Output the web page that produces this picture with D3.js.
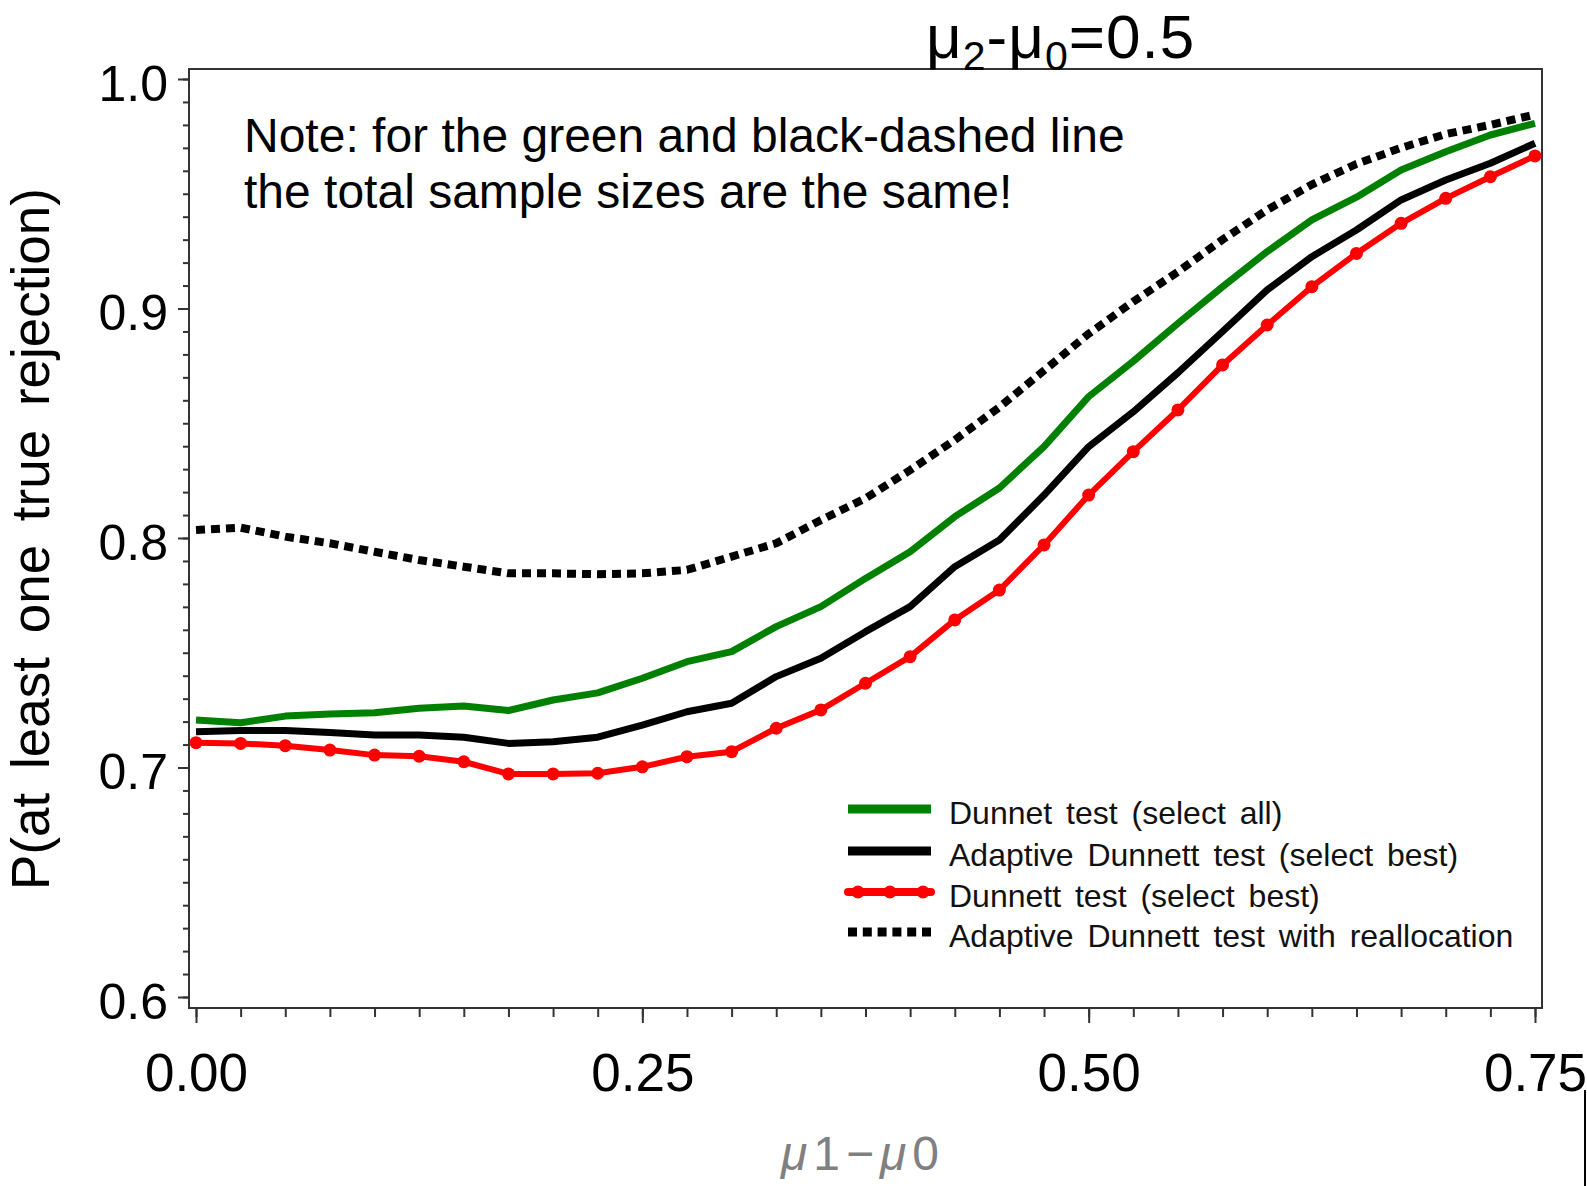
<!DOCTYPE html>
<html>
<head>
<meta charset="utf-8">
<script src="https://cdn.jsdelivr.net/npm/d3@7"></script>
<style>
  body { margin: 0; background: #fff; }
  text { font-family: "Liberation Sans", Arial, sans-serif; }
</style>
</head>
<body>
<div id="chart"></div>
<script>
// ---------- data ----------
var mu1 = [0, 0.025, 0.05, 0.075, 0.1, 0.125, 0.15, 0.175, 0.2, 0.225, 0.25,
           0.275, 0.3, 0.325, 0.35, 0.375, 0.4, 0.425, 0.45, 0.475, 0.5,
           0.525, 0.55, 0.575, 0.6, 0.625, 0.65, 0.675, 0.7, 0.725, 0.75];

var dunnetAll = [0.7207, 0.7195, 0.7224, 0.7233, 0.7239, 0.7258, 0.7268, 0.7248, 0.7294, 0.7325, 0.7389,
                 0.7461, 0.7505, 0.7614, 0.7701, 0.7824, 0.7940, 0.8093, 0.8218, 0.8398, 0.8616,
                 0.8770, 0.8935, 0.9095, 0.9248, 0.9386, 0.9485, 0.9603, 0.9683, 0.9756, 0.9807];

var adaptiveBest = [0.7156, 0.7161, 0.7161, 0.7152, 0.7142, 0.7142, 0.7132, 0.7105, 0.7112, 0.7132, 0.7185,
                    0.7243, 0.7280, 0.7396, 0.7476, 0.7592, 0.7701, 0.7875, 0.7991, 0.8187, 0.8398,
                    0.8550, 0.8720, 0.8900, 0.9081, 0.9226, 0.9342, 0.9473, 0.9560, 0.9633, 0.9720];

var dunnettBest = [0.7108, 0.7105, 0.7095, 0.7076, 0.7054, 0.7049, 0.7025, 0.6972, 0.6972, 0.6975, 0.7003,
                   0.7047, 0.7069, 0.7171, 0.7251, 0.7367, 0.7483, 0.7643, 0.7773, 0.7970, 0.8187,
                   0.8376, 0.8558, 0.8754, 0.8928, 0.9095, 0.9240, 0.9371, 0.9480, 0.9574, 0.9665];

var adaptiveRealloc = [0.8035, 0.8045, 0.8006, 0.7977, 0.7940, 0.7904, 0.7875, 0.7846, 0.7846, 0.7842, 0.7846,
                       0.7861, 0.7919, 0.7977, 0.8078, 0.8173, 0.8296, 0.8427, 0.8570, 0.8730, 0.8890,
                       0.9030, 0.9160, 0.9300, 0.9430, 0.9540, 0.9630, 0.9700, 0.9760, 0.9800, 0.9845];

var yTicks = [0.6, 0.7, 0.8, 0.9, 1.0];
var xTicks = [0, 0.25, 0.5, 0.75];
var legendLabels = ["Dunnet test (select all)",
                    "Adaptive Dunnett test (select best)",
                    "Dunnett test (select best)",
                    "Adaptive Dunnett test with reallocation"];

// ---------- layout ----------
var W = 1587, H = 1186;
var frame = {left: 189, right: 1542, top: 69, bottom: 1008};

var svg = d3.select("#chart").append("svg")
  .attr("width", W)
  .attr("height", H);

var x = d3.scaleLinear().domain([0, 0.75]).range([196, 1535]);
var y = d3.scaleLinear().domain([0.6, 1.0]).range([997, 79]);

// frame
svg.append("rect")
  .attr("x", frame.left).attr("y", frame.top)
  .attr("width", frame.right - frame.left)
  .attr("height", frame.bottom - frame.top)
  .attr("fill", "none")
  .attr("stroke", "#333")
  .attr("stroke-width", 2);

// y axis: minor then major
var yMinor = d3.range(60, 101).map(d => d / 100);
svg.append("g")
  .attr("transform", `translate(${frame.left},0)`)
  .call(d3.axisLeft(y).tickValues(yMinor).tickSize(6).tickFormat(""))
  .call(g => g.select(".domain").remove())
  .selectAll("line").attr("stroke", "#333").attr("stroke-width", 2);

var yAxis = svg.append("g")
  .attr("transform", `translate(${frame.left},0)`)
  .call(d3.axisLeft(y).tickValues(yTicks).tickSize(11).tickPadding(10).tickFormat(d3.format(".1f")));
yAxis.select(".domain").remove();
yAxis.selectAll("line").attr("stroke", "#333").attr("stroke-width", 2);
yAxis.selectAll("text")
  .attr("font-size", 50)
  .attr("font-family", "Liberation Sans, Arial, sans-serif")
  .attr("fill", "#000")
  .attr("dy", "0.42em");

// x axis: minor then major
var xMinor = d3.range(0, 31).map(d => d * 0.025);
svg.append("g")
  .attr("transform", `translate(0,${frame.bottom})`)
  .call(d3.axisBottom(x).tickValues(xMinor).tickSize(9).tickFormat(""))
  .call(g => g.select(".domain").remove())
  .selectAll("line").attr("stroke", "#333").attr("stroke-width", 2);

var xAxis = svg.append("g")
  .attr("transform", `translate(0,${frame.bottom})`)
  .call(d3.axisBottom(x).tickValues(xTicks).tickSize(15).tickPadding(30).tickFormat(d3.format(".2f")));
xAxis.select(".domain").remove();
xAxis.selectAll("line").attr("stroke", "#333").attr("stroke-width", 2);
xAxis.selectAll("text")
  .attr("font-size", 53)
  .attr("font-family", "Liberation Sans, Arial, sans-serif")
  .attr("fill", "#000");

// ---------- lines ----------
var line = d3.line()
  .x((d, i) => x(mu1[i]))
  .y(d => y(d));

svg.append("path")
  .datum(adaptiveRealloc)
  .attr("d", line)
  .attr("fill", "none")
  .attr("stroke", "#000")
  .attr("stroke-width", 8)
  .attr("stroke-dasharray", "9,6");

svg.append("path")
  .datum(dunnetAll)
  .attr("d", line)
  .attr("fill", "none")
  .attr("stroke", "#008000")
  .attr("stroke-width", 7)
  .attr("stroke-linejoin", "round");

svg.append("path")
  .datum(adaptiveBest)
  .attr("d", line)
  .attr("fill", "none")
  .attr("stroke", "#000")
  .attr("stroke-width", 7)
  .attr("stroke-linejoin", "round");

svg.append("path")
  .datum(dunnettBest)
  .attr("d", line)
  .attr("fill", "none")
  .attr("stroke", "#ff0000")
  .attr("stroke-width", 6)
  .attr("stroke-linejoin", "round");

svg.append("g").selectAll("circle")
  .data(dunnettBest)
  .join("circle")
  .attr("cx", (d, i) => x(mu1[i]))
  .attr("cy", d => y(d))
  .attr("r", 6.5)
  .attr("fill", "#ff0000");

// ---------- legend ----------
var legY = [809, 851, 892, 932];
var leg = svg.append("g");
leg.append("line").attr("x1", 848).attr("x2", 931).attr("y1", legY[0]).attr("y2", legY[0])
  .attr("stroke", "#008000").attr("stroke-width", 9);
leg.append("line").attr("x1", 848).attr("x2", 931).attr("y1", legY[1]).attr("y2", legY[1])
  .attr("stroke", "#000").attr("stroke-width", 9);
leg.append("line").attr("x1", 848).attr("x2", 931).attr("y1", legY[2]).attr("y2", legY[2])
  .attr("stroke", "#ff0000").attr("stroke-width", 8).attr("stroke-linecap", "round");
leg.selectAll("circle").data([858, 890, 923]).join("circle")
  .attr("cx", d => d).attr("cy", legY[2]).attr("r", 6.5).attr("fill", "#ff0000");
leg.append("line").attr("x1", 848).attr("x2", 931).attr("y1", legY[3]).attr("y2", legY[3])
  .attr("stroke", "#000").attr("stroke-width", 9).attr("stroke-dasharray", "9,5.8");

leg.selectAll("text").data(legendLabels).join("text")
  .attr("x", 949)
  .attr("y", (d, i) => legY[i] + 15)
  .attr("font-size", 32)
  .attr("word-spacing", 5)
  .attr("fill", "#111")
  .text(d => d);

// ---------- texts ----------
svg.append("text")
  .attr("x", 244).attr("y", 152)
  .attr("font-size", 48)
  .text("Note: for the green and black-dashed line");
svg.append("text")
  .attr("x", 244).attr("y", 208)
  .attr("font-size", 48)
  .text("the total sample sizes are the same!");

var title = svg.append("text")
  .attr("x", 926).attr("y", 58)
  .attr("font-size", 62)
  .attr("letter-spacing", 1);
title.append("tspan").text("μ");
title.append("tspan").attr("font-size", 41).attr("dy", 12).text("2");
title.append("tspan").attr("dy", -12).text("-μ");
title.append("tspan").attr("font-size", 41).attr("dy", 12).text("0");
title.append("tspan").attr("dy", -12).text("=0.5");

svg.append("text")
  .attr("transform", "translate(49,539) rotate(-90)")
  .attr("text-anchor", "middle")
  .attr("font-size", 53)
  .attr("word-spacing", 9)
  .text("P(at least one true rejection)");

var xlab = svg.append("text")
  .attr("x", 863).attr("y", 1170)
  .attr("text-anchor", "middle")
  .attr("font-size", 48)
  .attr("fill", "#808080")
  .attr("letter-spacing", 6);
xlab.append("tspan").attr("font-style", "italic").text("μ");
xlab.append("tspan").text("1−");
xlab.append("tspan").attr("font-style", "italic").text("μ");
xlab.append("tspan").text("0");

// stray border line at the right edge of the original image
svg.append("line")
  .attr("x1", 1585).attr("x2", 1585)
  .attr("y1", 1090).attr("y2", H)
  .attr("stroke", "#000").attr("stroke-width", 2);
</script>
</body>
</html>
